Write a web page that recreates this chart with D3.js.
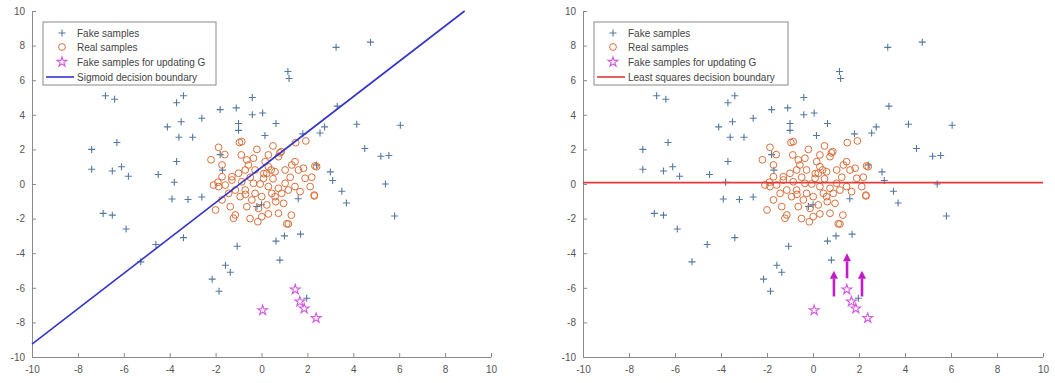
<!DOCTYPE html>
<html>
<head>
<meta charset="utf-8">
<script src="https://cdn.jsdelivr.net/npm/d3@7"></script>
<style>
  body { margin: 0; background: #fff; }
  svg { font-family: "Liberation Sans", Arial, sans-serif; }
  .axis path, .axis line { stroke: #8a8a8a; }
  .axis text { fill: #555; font-size: 10px; }
</style>
</head>
<body>
<svg id="chart" width="1055" height="383"></svg>
<script>
// generated (fake) samples, same in both panels
var fakeSamples = [
  [-6.8,5.1],[-6.4,4.9],[-3.7,4.7],[-3.4,5.1],[-0.4,5.0],[-1.8,4.3],[-1.1,4.4],[-0.4,4.0],
  [0.05,4.1],[-3.5,3.6],[-2.6,3.8],[-4.1,3.3],[-1.0,3.5],[-1.0,3.1],[-6.3,2.4],[-3.6,2.7],
  [-3.0,2.7],[-7.4,2.0],[-7.4,0.85],[-6.5,0.75],[-6.1,1.0],[-5.8,0.45],[-4.5,0.55],[-3.7,1.3],
  [-3.8,0.1],[-1.8,1.7],[0.15,2.8],[3.25,7.9],[4.75,8.2],[1.15,6.5],[1.2,6.1],[3.3,4.5],
  [0.63,3.5],[4.15,3.45],[6.05,3.4],[2.75,3.3],[2.55,2.95],[1.8,2.9],[4.5,2.05],[5.2,1.6],
  [5.55,1.65],[3.0,0.7],[3.1,0.2],[3.5,-0.42],[3.7,-1.1],[5.4,0.0],[5.8,-1.85],[1.6,-0.85],
  [1.7,-2.9],[1.0,-3.0],[0.63,-3.3],[0.8,-4.4],[1.97,-6.6],[-5.26,-4.5],[-1.57,-4.7],[-1.36,-5.1],
  [-2.15,-5.5],[-1.85,-6.2],[-3.9,-0.87],[-3.2,-0.9],[-2.6,-0.75],[-6.9,-1.7],[-6.5,-1.8],[-5.9,-2.6],
  [-3.4,-3.1],[-4.6,-3.5],[-1.06,-3.6],[0.0,-1.2],[-0.2,-1.3],[-1.7,0.8],[2.4,1.1]
];
// real samples
var realSamples = [
  [-1.87,2.12],[-1.72,1.10],[-0.86,2.45],[-0.20,2.0],[0.86,1.87],[1.49,2.39],[1.93,2.49],[-0.88,1.68],
  [-0.64,1.39],[-0.71,0.81],[-0.49,0.39],[0.16,1.29],[0.30,1.0],[0.42,0.81],[0.23,0.62],[0.59,0.71],
  [1.03,0.81],[1.46,1.29],[1.61,0.81],[1.83,0.91],[2.33,1.04],[2.19,0.39],[1.90,0.33],[1.25,0.39],
  [1.03,0.04],[0.74,-0.25],[0.30,-0.15],[-0.06,0.0],[-0.35,0.04],[-0.86,0.13],[-1.29,0.23],[-1.58,-0.06],
  [-1.87,-0.15],[-2.09,-0.06],[-1.72,0.42],[-1.14,-0.35],[-0.71,-0.35],[-0.28,-0.54],[0.01,-0.73],[0.45,-0.54],
  [0.88,-0.54],[1.17,-0.35],[1.46,-0.15],[1.68,-0.44],[2.12,-0.15],[2.30,-0.69],[-1.72,-0.92],[-1.36,-1.31],
  [-0.64,-1.31],[-0.13,-1.41],[0.23,-1.21],[0.62,-1.02],[0.96,-1.12],[0.74,-1.69],[0.30,-1.73],[0.01,-1.89],
  [-0.16,-2.18],[-1.14,-1.79],[-1.22,-1.98],[1.17,-2.31],[0.59,-0.73],[-0.42,-0.92],[-0.93,-0.73],[-1.43,-0.54],
  [0.09,0.33],[-0.28,0.81],[-0.57,1.10],[-1.0,0.62],[-1.29,0.42],[1.32,1.10],[0.74,1.58],[0.30,1.68],
  [-0.35,1.49],[-0.96,2.4],[0.8,1.8],[2.4,1.0],[1.1,-2.3],[2.3,-0.64],[-1.9,0.1],[-2.2,1.4],
  [-2.0,-1.5],[-1.6,1.7],[0.5,2.2],[1.3,-1.8],[-0.5,-2.0],[0.1,0.6],[0.5,0.3],[-0.7,-0.6]
];
// fake samples used for updating G
var updatingSamples = [[0.05,-7.3],[1.47,-6.1],[1.67,-6.8],[1.86,-7.2],[2.38,-7.75]];
// decision boundaries (end points)
var sigmoidBoundary = [[-10,-9.25],[8.85,10]];
var lsBoundary = [[-10,0.08],[10,0.08]];
// arrows on right panel: x, from y, to y
var arrowX = [0.91, 1.48, 2.13];
var arrowFrom = [-6.5, -5.45, -6.5];
var arrowTo = [-4.95, -3.95, -4.95];
var tickValues = [-10,-8,-6,-4,-2,0,2,4,6,8,10];
var legendLabels = ["Fake samples","Real samples","Fake samples for updating G"];

var svg = d3.select("#chart");
var defs = svg.append("defs");
// arrow head, tip points along the line direction
defs.append("marker").attr("id","ahead").attr("viewBox","0 0 10 10")
  .attr("refX",0).attr("refY",5).attr("markerWidth",9).attr("markerHeight",8)
  .attr("markerUnits","userSpaceOnUse").attr("orient","auto")
  .append("path").attr("d","M0,0 L10,5 L0,10 Z").attr("fill","#c21bc8");

var fakeColor = "#5479a0", realColor = "#d9703c", starColor = "#d35ae0";
var star = d3.symbol().type(d3.symbolStar).size(30);
var fmt = function(d){ return String(d); };

function drawPanel(left, right, boundary, boundaryColor, boundaryLabel, withArrows) {
  var x = d3.scaleLinear().domain([-10,10]).range([left,right]);
  var y = d3.scaleLinear().domain([-10,10]).range([357,11]);
  var g = svg.append("g");

  g.append("g").attr("class","axis").attr("transform","translate(0,357)")
    .call(d3.axisBottom(x).tickValues(tickValues).tickFormat(fmt).tickSizeInner(-4).tickSizeOuter(0).tickPadding(9));
  g.append("g").attr("class","axis").attr("transform","translate("+left+",0)")
    .call(d3.axisLeft(y).tickValues(tickValues).tickFormat(fmt).tickSizeInner(-4).tickSizeOuter(0).tickPadding(7));

  // fake samples as '+'
  g.selectAll(".fake").data(fakeSamples).enter().append("path")
    .attr("class","fake")
    .attr("d", function(d){ var cx=x(d[0]), cy=y(d[1]);
      return "M"+(cx-3.5)+","+cy+"H"+(cx+3.5)+"M"+cx+","+(cy-3.5)+"V"+(cy+3.5); })
    .attr("stroke",fakeColor).attr("stroke-width",1.1);

  g.selectAll(".real").data(realSamples).enter().append("circle")
    .attr("class","real")
    .attr("cx", function(d){ return x(d[0]); })
    .attr("cy", function(d){ return y(d[1]); })
    .attr("r",3.4).attr("fill","none").attr("stroke",realColor).attr("stroke-width",1);

  g.selectAll(".upd").data(updatingSamples).enter().append("path")
    .attr("class","upd").attr("d",star)
    .attr("transform", function(d){ return "translate("+x(d[0])+","+y(d[1])+")"; })
    .attr("fill","none").attr("stroke",starColor).attr("stroke-width",1.1);

  var line = d3.line().x(function(d){ return x(d[0]); }).y(function(d){ return y(d[1]); });
  g.append("path").datum(boundary).attr("d",line)
    .attr("fill","none").attr("stroke",boundaryColor).attr("stroke-width",1.6);

  if (withArrows) {
    g.selectAll(".arrow").data(arrowX).enter().append("line")
      .attr("class","arrow")
      .attr("x1", function(d){ return x(d); }).attr("x2", function(d){ return x(d); })
      .attr("y1", function(d,i){ return y(arrowFrom[i]); })
      .attr("y2", function(d,i){ return y(arrowTo[i]) + 9; })
      .attr("stroke","#c21bc8").attr("stroke-width",2.6)
      .attr("marker-end","url(#ahead)");
  }

  // legend
  var lg = g.append("g").attr("transform","translate("+(left+11)+",22)");
  var lw = withArrows ? 194 : 173;
  lg.append("rect").attr("width",lw).attr("height",63)
    .attr("fill","#fff").attr("stroke","#8a8a8a").attr("stroke-width",1);
  var rows = [11,25,40,55];
  var mx = 19;
  lg.append("path").attr("d","M"+(mx-3.5)+","+rows[0]+"h7M"+mx+","+(rows[0]-3.5)+"v7")
    .attr("stroke",fakeColor).attr("stroke-width",1.1);
  lg.append("circle").attr("cx",mx).attr("cy",rows[1]).attr("r",3.4)
    .attr("fill","none").attr("stroke",realColor);
  lg.append("path").attr("d",star).attr("transform","translate("+mx+","+rows[2]+")")
    .attr("fill","none").attr("stroke",starColor).attr("stroke-width",1.1);
  lg.append("line").attr("x1",3).attr("x2",31).attr("y1",rows[3]).attr("y2",rows[3])
    .attr("stroke",boundaryColor).attr("stroke-width",1.6);
  legendLabels.concat([boundaryLabel]).forEach(function(t,i){
    lg.append("text").attr("x",34).attr("y",rows[i]).attr("dy","0.35em")
      .attr("font-size","10px").attr("fill","#444").text(t);
  });
}

drawPanel(32, 491, sigmoidBoundary, "#3434c8", "Sigmoid decision boundary", false);
drawPanel(583, 1043, lsBoundary, "#e23a3a", "Least squares decision boundary", true);
</script>
</body>
</html>
